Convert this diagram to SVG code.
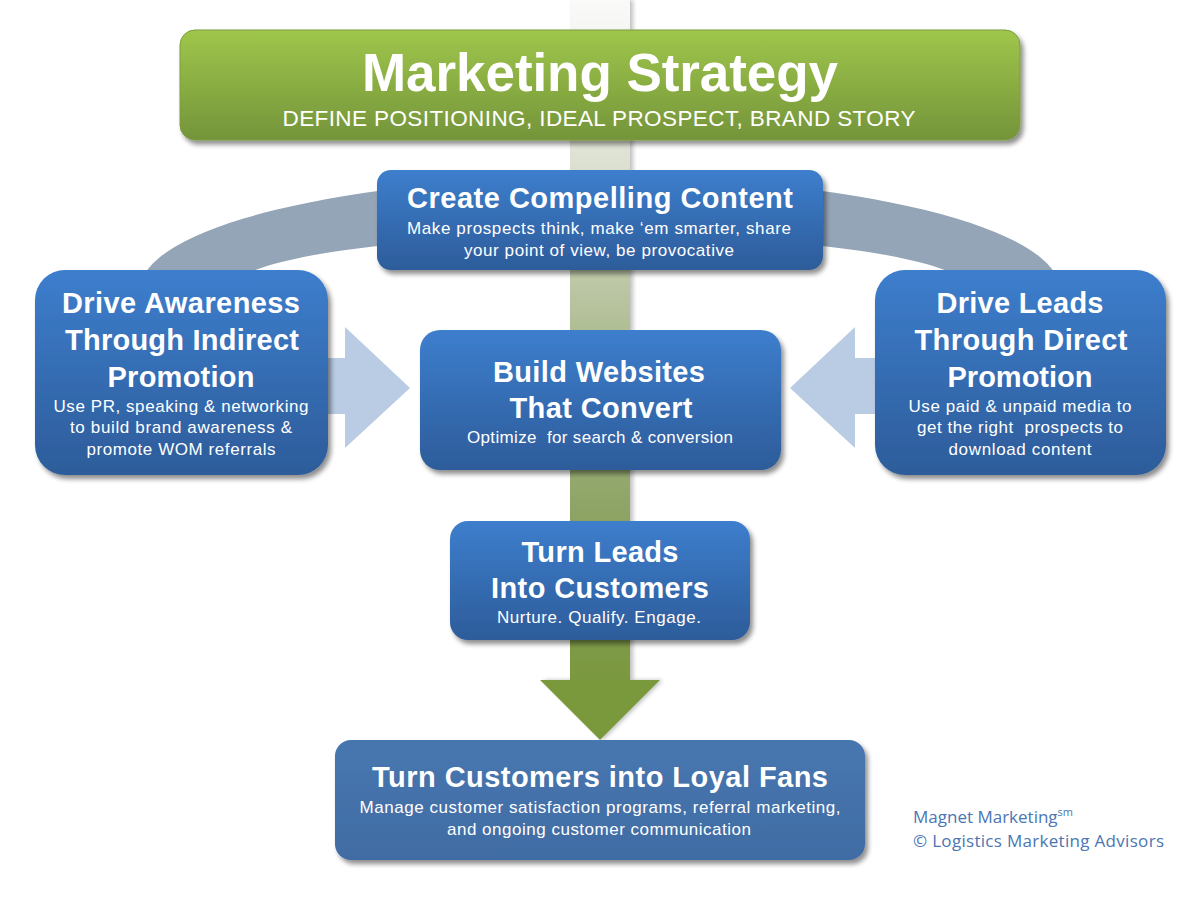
<svg xmlns="http://www.w3.org/2000/svg" width="1200" height="900" viewBox="0 0 1200 900">
  <defs>
    <linearGradient id="gBlue" x1="0" y1="0" x2="0" y2="1">
      <stop offset="0" stop-color="#3d7ecd"/>
      <stop offset="1" stop-color="#2d5c9a"/>
    </linearGradient>
    <linearGradient id="gBlueFlat" x1="0" y1="0" x2="0" y2="1">
      <stop offset="0" stop-color="#4776af"/>
      <stop offset="1" stop-color="#416ca4"/>
    </linearGradient>
    <linearGradient id="gGreen" x1="0" y1="0" x2="0" y2="1">
      <stop offset="0" stop-color="#9fc64b"/>
      <stop offset="1" stop-color="#74943a"/>
    </linearGradient>
    <linearGradient id="gTrunk" gradientUnits="userSpaceOnUse" x1="0" y1="0" x2="0" y2="680">
      <stop offset="0" stop-color="#fafaf9"/>
      <stop offset="0.18" stop-color="#e7eae0"/>
      <stop offset="0.3" stop-color="#d1d7c2"/>
      <stop offset="0.5" stop-color="#adbc91"/>
      <stop offset="0.75" stop-color="#8ea466"/>
      <stop offset="1" stop-color="#7a983f"/>
    </linearGradient>
    <filter id="shadow" x="-10%" y="-10%" width="125%" height="130%">
      <feGaussianBlur in="SourceAlpha" stdDeviation="2.5"/>
      <feOffset dx="3" dy="4" result="b"/>
      <feComponentTransfer><feFuncA type="linear" slope="0.45"/></feComponentTransfer>
      <feMerge><feMergeNode/><feMergeNode in="SourceGraphic"/></feMerge>
    </filter>
    <filter id="shadowSoft" x="-10%" y="-5%" width="130%" height="110%">
      <feGaussianBlur in="SourceAlpha" stdDeviation="2"/>
      <feOffset dx="3" dy="0" result="b"/>
      <feComponentTransfer><feFuncA type="linear" slope="0.25"/></feComponentTransfer>
      <feMerge><feMergeNode/><feMergeNode in="SourceGraphic"/></feMerge>
    </filter>
  </defs>
  <style>
    .node { fill: url(#gBlue); filter: url(#shadow); }
    .t { font-family: "Liberation Sans", Arial, sans-serif; fill: #ffffff; text-anchor: middle; }
    .h { font-weight: bold; font-size: 29px; }
    .s { font-size: 17px; }
    .foot { font-family: "Open Sans", "Noto Sans", sans-serif; fill: #4a76b2; font-size: 17px; }
  </style>

  <rect x="0" y="0" width="1200" height="900" fill="#ffffff"/>

  <g id="connectors">
    <path d="M140,290 A460,113 0 0 1 1060,290 L970,290 A370,55 0 0 0 230,290 Z" fill="#94a5b8"/>
    <g filter="url(#shadowSoft)">
      <rect x="570" y="0" width="60" height="681" fill="url(#gTrunk)"/>
      <polygon points="540,680 660,680 600,740" fill="#7a993d"/>
    </g>
    <polygon points="300,358 345,358 345,327 410,388 345,448 345,414 300,414" fill="#b9cce4"/>
    <polygon points="900,358 855,358 855,327 790,388 855,448 855,414 900,414" fill="#b9cce4"/>
  </g>

  <g id="strategy">
    <rect x="180" y="30" width="840" height="110" rx="15" fill="url(#gGreen)" stroke="#7c9c3e" stroke-width="1" filter="url(#shadow)"/>
    <text class="t" x="600" y="91" font-weight="bold" font-size="53" textLength="476">Marketing Strategy</text>
    <text class="t" x="599" y="126" font-size="22.5" textLength="633">DEFINE POSITIONING, IDEAL PROSPECT, BRAND STORY</text>
  </g>

  <g id="content">
    <rect class="node" x="377" y="170" width="446" height="100" rx="14"/>
    <text class="t h" x="600" y="208" textLength="386">Create Compelling Content</text>
    <text class="t s" x="599" y="234" textLength="384">Make prospects think, make ‘em smarter, share</text>
    <text class="t s" x="599" y="256" textLength="270">your point of view, be provocative</text>
  </g>

  <g id="awareness">
    <rect class="node" x="35" y="270" width="293" height="205" rx="30"/>
    <text class="t h" x="181" y="313" textLength="238">Drive Awareness</text>
    <text class="t h" x="182" y="350" textLength="234">Through Indirect</text>
    <text class="t h" x="181" y="387" textLength="147">Promotion</text>
    <text class="t s" x="181" y="412" textLength="255">Use PR, speaking &amp; networking</text>
    <text class="t s" x="181" y="433" textLength="222">to build brand awareness &amp;</text>
    <text class="t s" x="181" y="455" textLength="189">promote WOM referrals</text>
  </g>

  <g id="leads">
    <rect class="node" x="875" y="270" width="291" height="205" rx="30"/>
    <text class="t h" x="1020" y="313" textLength="167">Drive Leads</text>
    <text class="t h" x="1021" y="350" textLength="213">Through Direct</text>
    <text class="t h" x="1020" y="387" textLength="145">Promotion</text>
    <text class="t s" x="1020" y="412" textLength="223">Use paid &amp; unpaid media to</text>
    <text class="t s" x="1020" y="433" textLength="206" xml:space="preserve">get the right  prospects to</text>
    <text class="t s" x="1020" y="455" textLength="143">download content</text>
  </g>

  <g id="websites">
    <rect class="node" x="420" y="330" width="361" height="140" rx="20"/>
    <text class="t h" x="599" y="382" textLength="212">Build Websites</text>
    <text class="t h" x="601" y="418" textLength="183">That Convert</text>
    <text class="t s" x="600" y="443" textLength="266" xml:space="preserve">Optimize  for search &amp; conversion</text>
  </g>

  <g id="customers">
    <rect class="node" x="450" y="521" width="300" height="119" rx="18"/>
    <text class="t h" x="600" y="562" textLength="157">Turn Leads</text>
    <text class="t h" x="600" y="598" textLength="218">Into Customers</text>
    <text class="t s" x="599" y="623" textLength="204">Nurture. Qualify. Engage.</text>
  </g>

  <g id="fans">
    <rect x="335" y="740" width="530" height="120" rx="16" fill="url(#gBlueFlat)" filter="url(#shadow)"/>
    <text class="t h" x="600" y="787" textLength="456">Turn Customers into Loyal Fans</text>
    <text class="t s" x="600" y="813" textLength="481">Manage customer satisfaction programs, referral marketing,</text>
    <text class="t s" x="599" y="835" textLength="304">and ongoing customer communication</text>
  </g>

  <g id="footer">
    <text class="foot" x="913" y="823">Magnet Marketing<tspan font-size="11" dy="-7">sm</tspan></text>
    <text class="foot" x="913" y="847" textLength="251">© Logistics Marketing Advisors</text>
  </g>
</svg>
